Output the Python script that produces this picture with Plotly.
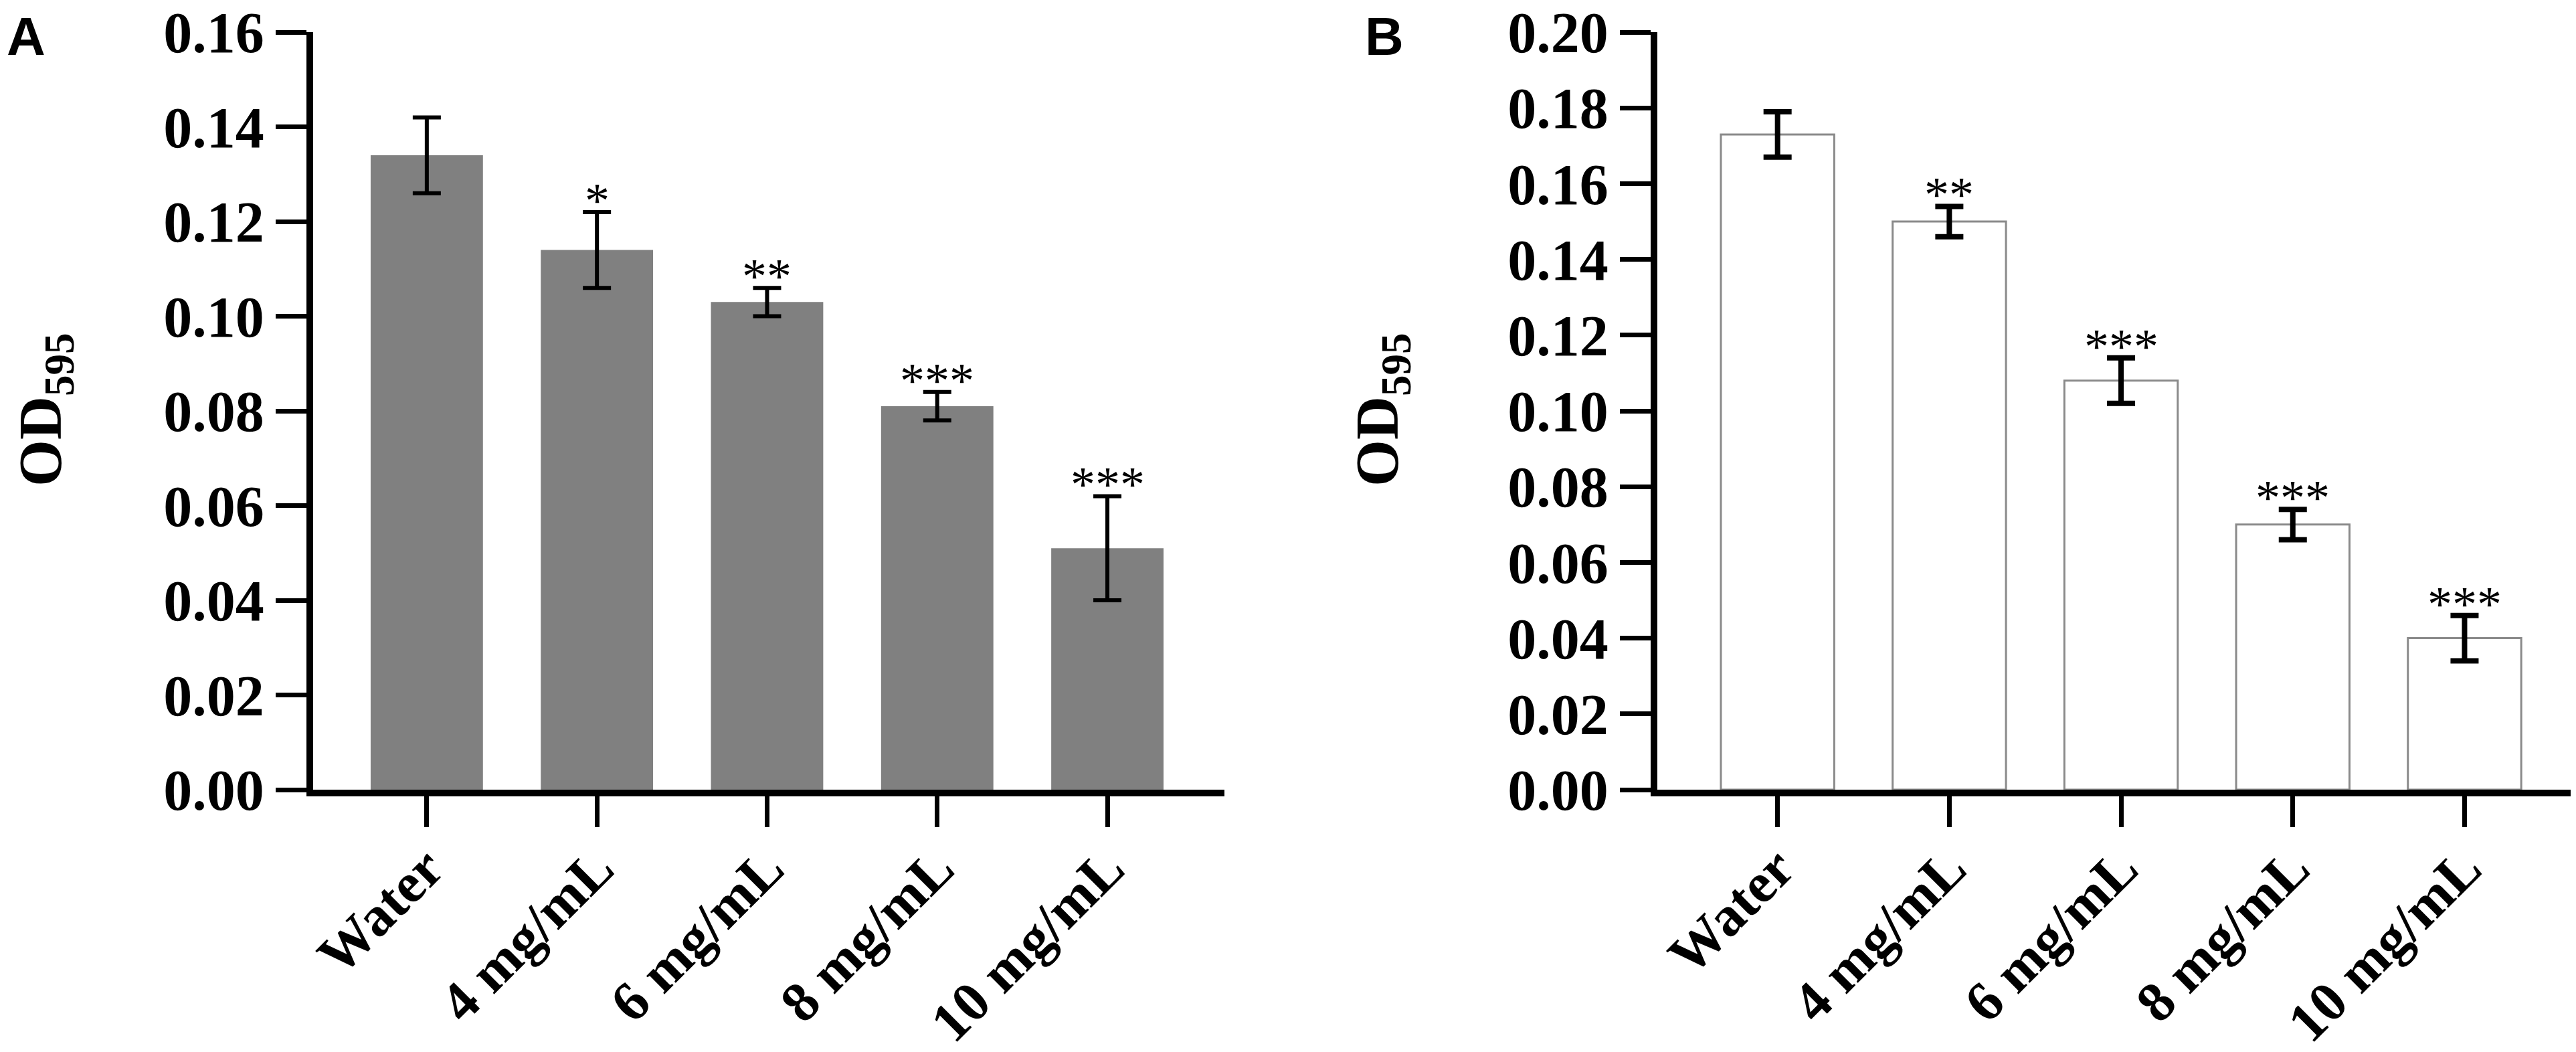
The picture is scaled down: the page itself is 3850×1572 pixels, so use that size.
import plotly.graph_objects as go

# Shared categories
categories = ["Water", "4 mg/mL", "6 mg/mL", "8 mg/mL", "10 mg/mL"]

# Panel A (grey bars)
a_values = [0.134, 0.114, 0.103, 0.081, 0.051]
a_errors = [0.008, 0.008, 0.003, 0.003, 0.011]
a_stars = ["", "*", "**", "***", "***"]
a_ticks = [0.00, 0.02, 0.04, 0.06, 0.08, 0.10, 0.12, 0.14, 0.16]

# Panel B (white bars)
b_values = [0.173, 0.150, 0.108, 0.070, 0.040]
b_errors = [0.006, 0.004, 0.006, 0.004, 0.006]
b_stars = ["", "**", "***", "***", "***"]
b_ticks = [0.00, 0.02, 0.04, 0.06, 0.08, 0.10, 0.12, 0.14, 0.16, 0.18, 0.20]

W, H = 3850, 1572
SERIF = "Liberation Serif, Times New Roman, serif"

fig = go.Figure()

fig.add_trace(
    go.Bar(
        x=categories,
        y=a_values,
        width=0.66,
        marker_color="#808080",
        marker_line_width=0,
        error_y=dict(type="data", array=a_errors, color="black", thickness=6, width=21),
        showlegend=False,
        xaxis="x",
        yaxis="y",
    )
)

fig.add_trace(
    go.Bar(
        x=categories,
        y=b_values,
        width=0.66,
        marker_color="white",
        marker_line_color="#8a8a8a",
        marker_line_width=3,
        error_y=dict(type="data", array=b_errors, color="black", thickness=8, width=21),
        showlegend=False,
        xaxis="x2",
        yaxis="y2",
    )
)

axis_common = dict(
    showline=True,
    linecolor="black",
    linewidth=10,
    showgrid=False,
    zeroline=False,
    automargin=False,
    ticks="outside",
    tickcolor="black",
    ticklen=46,
    tickwidth=7,
    ticklabeloverflow="allow",
    tickfont=dict(family=SERIF, size=86, color="black", weight="bold"),
)

x_tickfont = dict(family=SERIF, size=84, color="black", weight="bold")
y_dom = [400 / H, 1 - 40 / H]

fig.update_layout(
    width=W,
    height=H,
    margin=dict(l=0, r=0, t=0, b=0),
    paper_bgcolor="white",
    plot_bgcolor="white",
    xaxis=dict(
        axis_common,
        domain=[460 / W, 1822 / W],
        range=[-0.668, 4.688],
        tickangle=-45,
        ticklabelstandoff=-22,
        tickfont=x_tickfont,
        anchor="y",
    ),
    yaxis=dict(
        axis_common,
        domain=y_dom,
        range=[0, 0.16002],
        tickvals=a_ticks,
        ticktext=[f"{t:.2f}" for t in a_ticks],
        anchor="x",
    ),
    xaxis2=dict(
        axis_common,
        domain=[2469 / W, 1.0],
        range=[-0.70, 4.68],
        tickangle=-45,
        ticklabelstandoff=-22,
        tickfont=x_tickfont,
        anchor="y2",
    ),
    yaxis2=dict(
        axis_common,
        domain=y_dom,
        range=[0, 0.20002],
        tickvals=b_ticks,
        ticktext=[f"{t:.2f}" for t in b_ticks],
        anchor="x2",
    ),
)

# significance stars above the error bars
for xa, ya, vals, errs, stars in [
    ("x", "y", a_values, a_errors, a_stars),
    ("x2", "y2", b_values, b_errors, b_stars),
]:
    for cat, v, e, s in zip(categories, vals, errs, stars):
        if not s:
            continue
        fig.add_annotation(
            x=cat,
            y=v + e,
            xref=xa,
            yref=ya,
            text=s,
            showarrow=False,
            yanchor="bottom",
            yshift=-26,
            font=dict(family=SERIF, size=74, color="black"),
        )

# y axis titles
for xpos in [60 / W, 2058 / W]:
    fig.add_annotation(
        x=xpos,
        y=1 - 604 / H,
        xref="paper",
        yref="paper",
        text="<b>OD<sub>595</sub></b>",
        textangle=-90,
        showarrow=False,
        xanchor="center",
        yanchor="middle",
        font=dict(family=SERIF, size=90, color="black"),
    )

# panel letters
for letter, xpos in [("A", 0.0), ("B", 2030 / W)]:
    fig.add_annotation(
        x=xpos,
        y=1,
        xref="paper",
        yref="paper",
        text="<b>" + letter + "</b>",
        showarrow=False,
        xanchor="left",
        yanchor="top",
        font=dict(family="Liberation Sans, Arial, sans-serif", size=80, color="black"),
    )

fig.write_html("out.html")
